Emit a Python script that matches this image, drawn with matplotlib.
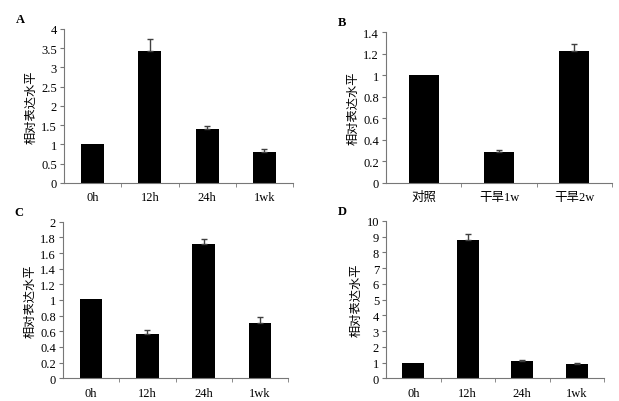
import matplotlib
matplotlib.use("Agg")
from matplotlib import pyplot as plt
from matplotlib.ticker import FixedLocator
import numpy as np

plt.rcParams['font.family'] = ['Liberation Serif', 'Noto Sans CJK SC']
plt.rcParams['font.size'] = 9

# panel A
cat_a = ["0h", "12h", "24h", "1wk"]
val_a = [1.0, 3.42, 1.40, 0.80]
err_a = [0.0, 0.32, 0.07, 0.07]
# panel B
cat_b = ["对照", "干旱1w", "干旱2w"]
val_b = [1.0, 0.285, 1.223]
err_b = [0.0, 0.025, 0.072]
# panel C
cat_c = ["0h", "12h", "24h", "1wk"]
val_c = [1.01, 0.566, 1.715, 0.706]
err_c = [0.0, 0.054, 0.059, 0.077]
# panel D
cat_d = ["0h", "12h", "24h", "1wk"]
val_d = [1.0, 8.81, 1.12, 0.89]
err_d = [0.0, 0.38, 0.045, 0.08]

ylab = "相对表达水平"

fig = plt.figure(figsize=(6.19, 4.02), dpi=100)

panels = [
    ("A", [0.1034, 0.5423, 0.370, 0.3831], cat_a, val_a, err_a, 4, 0.5),
    ("B", [0.6236, 0.5423, 0.3651, 0.3749], cat_b, val_b, err_b, 1.4, 0.2),
    ("C", [0.1018, 0.0565, 0.3635, 0.3895], cat_c, val_c, err_c, 2, 0.2),
    ("D", [0.6236, 0.0565, 0.3522, 0.3915], cat_d, val_d, err_d, 10, 1),
]

for letter, pos, cats, vals, errs, ymax, step in panels:
    ax = fig.add_axes(pos)
    x = np.arange(len(cats))
    ax.bar(x, vals, width=0.4, color="black")
    e = np.array(errs)
    m = e > 0
    ax.errorbar(x[m], np.array(vals)[m], yerr=[np.zeros(m.sum()), e[m]],
                fmt="none", ecolor="#404040", elinewidth=1, capsize=2.5, capthick=1)
    ax.set_xlim(-0.5, len(cats) - 0.5)
    ax.set_ylim(0, ymax)
    yt = np.arange(0, ymax + step / 2, step)
    ax.set_yticks(yt)
    ax.set_yticklabels(["%g" % round(v, 2) for v in yt])
    ax.set_xticks(x)
    ax.set_xticklabels(cats)
    ax.xaxis.set_minor_locator(FixedLocator(np.arange(0.5, len(cats), 1)))
    ax.tick_params(axis="x", which="major", length=0, pad=6)
    ax.tick_params(axis="x", which="minor", length=3, direction="out", color="#777777")
    ax.tick_params(axis="y", length=3, direction="out", pad=2, color="#777777")
    for s in ["top", "right"]:
        ax.spines[s].set_visible(False)
    for s in ["left", "bottom"]:
        ax.spines[s].set_color("#777777")
        ax.spines[s].set_linewidth(0.8)
    ax.set_ylabel(ylab, family="Noto Sans CJK SC", fontsize=8.8, labelpad=3)
    fig.text(pos[0] - 0.078, pos[1] + pos[3] + 0.01, letter, fontsize=9,
             fontweight="bold", ha="left", va="bottom")

fig.savefig("out.png", dpi=100)
